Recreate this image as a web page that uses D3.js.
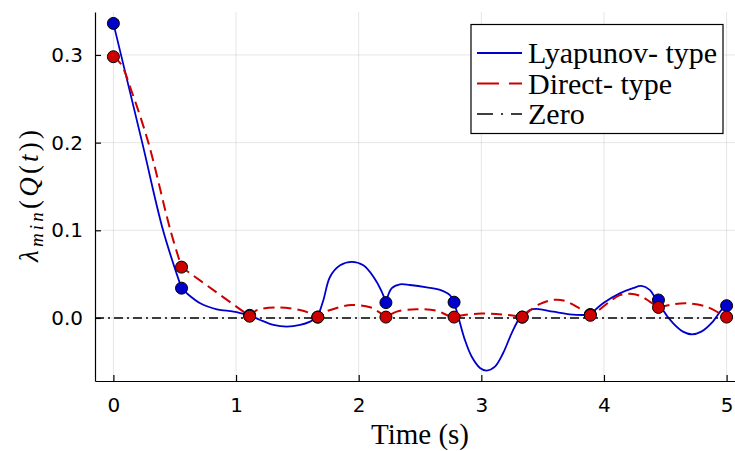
<!DOCTYPE html>
<html><head><meta charset="utf-8">
<script src="https://cdn.jsdelivr.net/npm/d3@7"></script>
<style>body{margin:0;background:#fff}</style>
</head><body>
<svg id="c" width="735" height="451"></svg>
<script>
// ---- data ----
const nodeTimes = [0, 0.5556, 1.1111, 1.6667, 2.2222, 2.7778, 3.3333, 3.8889, 4.4444, 5.0];
const lyapunovNodes = [0.336, 0.034, 0.003, 0.001, 0.0175, 0.018, 0.001, 0.004, 0.0205, 0.014];
const directNodes = [0.298, 0.058, 0.002, 0.001, 0.001, 0.001, 0.001, 0.003, 0.012, 0.001];

const lyapunovLineT = [0, 0.235, 0.405, 0.5556, 0.60, 0.708, 0.844, 0.98, 1.1111,
  1.197, 1.305, 1.414, 1.523, 1.604, 1.6667, 1.7125, 1.767, 1.849, 1.944, 2.038, 2.120, 2.188, 2.2222,
  2.270, 2.337, 2.419, 2.555, 2.663, 2.744, 2.7778, 2.812, 2.866, 2.921, 2.989, 3.043, 3.111, 3.178, 3.247, 3.314, 3.3333,
  3.396, 3.450, 3.586, 3.721, 3.83, 3.8889, 3.993, 4.129, 4.237, 4.305, 4.373, 4.414, 4.4444,
  4.481, 4.563, 4.644, 4.713, 4.794, 4.888, 4.957, 5.0];
const lyapunovLineV = [0.336, 0.2, 0.1, 0.034, 0.028, 0.0168, 0.0099, 0.0072, 0.003,
  -0.0023, -0.008, -0.0099, -0.008, -0.0042, 0.001, 0.0205, 0.047, 0.060, 0.064, 0.060, 0.047, 0.030, 0.0175,
  0.034, 0.0384, 0.0376, 0.035, 0.032, 0.026, 0.018, 0.0015, -0.025, -0.044, -0.057, -0.060, -0.0555, -0.040, -0.0175, 0, 0.001,
  0.009, 0.0103, 0.0072, 0.0042, 0.0034, 0.004, 0.0168, 0.028, 0.034, 0.0365, 0.032, 0.0243, 0.0205,
  0.009, -0.006, -0.0156, -0.0186, -0.0156, -0.0042, 0.009, 0.014];

const directLineT = [0, 0.06, 0.15, 0.285, 0.465, 0.5556, 0.833, 1.1111,
  1.17, 1.36, 1.52, 1.62, 1.6667, 1.713, 1.767, 1.94, 2.093, 2.16, 2.2222,
  2.31, 2.473, 2.636, 2.717, 2.7778, 2.86, 3.0, 3.12, 3.24, 3.3333,
  3.40, 3.48, 3.58, 3.67, 3.80, 3.8889, 3.95, 4.04, 4.13, 4.21, 4.30, 4.373, 4.4444,
  4.536, 4.67, 4.835, 4.943, 5.0];
const directLineV = [0.298, 0.290, 0.258, 0.2, 0.1, 0.058, 0.030, 0.002,
  0.009, 0.012, 0.009, 0.0046, 0.001, 0.006, 0.009, 0.0148, 0.0122, 0.0072, 0.001,
  0.0072, 0.0099, 0.0083, 0.0034, 0.001, 0.0035, 0.005, 0.0045, 0.003, 0.001,
  0.009, 0.016, 0.0205, 0.020, 0.011, 0.003, 0.008, 0.018, 0.026, 0.0275, 0.025, 0.0186, 0.012,
  0.0148, 0.0168, 0.0129, 0.0054, 0.001];

const zeroLevel = [0];
const xTicks = [0, 1, 2, 3, 4, 5];
const xTickLabels = ["0", "1", "2", "3", "4", "5"];
const yTicks = [0, 0.1, 0.2, 0.3];
const yTickLabels = ["0.0", "0.1", "0.2", "0.3"];
const legendLabels = ["Lyapunov- type", "Direct- type", "Zero"];

// ---- styles ----
const BLUE = "#0000cd", RED = "#cd0000";
const svg = d3.select("#c");
const L = 95, R = 745, T = 12, B = 381;
const x = d3.scaleLinear().domain([-0.15, 5.15]).range([L, R]);
const y = d3.scaleLinear().domain([-0.0719, 0.349]).range([B, T]);

// grid
const g = svg.append("g");
g.selectAll(".gx").data(xTicks).join("line")
  .attr("x1", d => x(d)).attr("x2", d => x(d)).attr("y1", T).attr("y2", B)
  .attr("stroke", "#000").attr("stroke-opacity", 0.1).attr("stroke-width", 1);
g.selectAll(".gy").data(yTicks).join("line")
  .attr("y1", d => y(d)).attr("y2", d => y(d)).attr("x1", L).attr("x2", R)
  .attr("stroke", "#000").attr("stroke-opacity", 0.1).attr("stroke-width", 1);

// axes (inward ticks)
const xAxis = d3.axisBottom(x).tickValues(xTicks).tickFormat((d, i) => xTickLabels[i]).tickSizeInner(-6).tickSizeOuter(0).tickPadding(12);
const yAxis = d3.axisLeft(y).tickValues(yTicks).tickFormat((d, i) => yTickLabels[i]).tickSizeInner(-6).tickSizeOuter(0).tickPadding(12);
const ax = svg.append("g").attr("transform", `translate(0,${B})`).call(xAxis);
const ay = svg.append("g").attr("transform", `translate(${L},0)`).call(yAxis);
[ax, ay].forEach(a => {
  a.select(".domain").attr("stroke", "#000").attr("stroke-width", 1.2);
  a.selectAll(".tick line").attr("stroke", "#000").attr("stroke-width", 1.2);
  a.selectAll(".tick text").attr("font-family", "DejaVu Sans").attr("font-size", 20).attr("fill", "#000");
});
ax.selectAll(".tick text").attr("dy", "0.95em");

// lines
function buildPath(ts, vs) {
  const pts = ts.map((t, i) => [t, vs[i]]);
  const line = d3.line().x(d => x(d[0])).y(d => y(d[1])).curve(d3.curveCatmullRom.alpha(0.5));
  let out = "";
  for (let i = 0; i < nodeTimes.length - 1; i++) {
    const seg = pts.filter(p => p[0] >= nodeTimes[i] - 1e-6 && p[0] <= nodeTimes[i + 1] + 1e-6);
    const p = line(seg);
    out += (i === 0) ? p : p.replace(/^M[^A-Za-z]*/, "");
  }
  return out;
}
svg.append("path").attr("d", buildPath(lyapunovLineT, lyapunovLineV))
  .attr("fill", "none").attr("stroke", BLUE).attr("stroke-width", 1.8);
svg.append("path").attr("d", buildPath(directLineT, directLineV))
  .attr("fill", "none").attr("stroke", RED).attr("stroke-width", 2).attr("stroke-dasharray", "11,6");
svg.selectAll(".zero").data(zeroLevel).join("line")
  .attr("x1", x.range()[0]).attr("x2", x.range()[1]).attr("y1", d => y(d)).attr("y2", d => y(d))
  .attr("stroke", "#000").attr("stroke-width", 1.4).attr("stroke-dasharray", "9,4,2,4");

// markers
svg.selectAll(".mb").data(nodeTimes).join("circle")
  .attr("cx", d => x(d)).attr("cy", (d, i) => y(lyapunovNodes[i])).attr("r", 6)
  .attr("fill", BLUE).attr("stroke", "#000").attr("stroke-width", 1);
svg.selectAll(".mr").data(nodeTimes).join("circle")
  .attr("cx", d => x(d)).attr("cy", (d, i) => y(directNodes[i])).attr("r", 6)
  .attr("fill", RED).attr("stroke", "#000").attr("stroke-width", 1);

// legend
const lg = svg.append("g");
lg.append("rect").attr("x", 471).attr("y", 24.5).attr("width", 252).attr("height", 109)
  .attr("fill", "#fff").attr("stroke", "#000").attr("stroke-width", 1.2);
const lstyles = [
  { c: BLUE, w: 1.8, dash: null },
  { c: RED, w: 2, dash: "22,10" },
  { c: "#000", w: 1.4, dash: "16,8,2,8" }
];
legendLabels.forEach((lab, i) => {
  const yy = 53 + i * 30.5;
  const ln = lg.append("line").attr("x1", 477).attr("x2", 522).attr("y1", yy).attr("y2", yy)
    .attr("stroke", lstyles[i].c).attr("stroke-width", lstyles[i].w);
  if (lstyles[i].dash) ln.attr("stroke-dasharray", lstyles[i].dash);
  lg.append("text").attr("x", 528).attr("y", yy + 10).text(lab)
    .attr("font-family", "Liberation Serif").attr("font-size", 30).attr("fill", "#000");
});

// axis labels
svg.append("text").attr("x", (L + R) / 2).attr("y", 444).attr("text-anchor", "middle")
  .attr("font-family", "Liberation Serif").attr("font-size", 29).text("Time (s)");
const yl = svg.append("text").attr("transform", "translate(38,196) rotate(-90)")
  .attr("text-anchor", "middle").attr("font-family", "Liberation Serif").attr("font-size", 27)
  .attr("textLength", 132).attr("lengthAdjust", "spacing");
yl.append("tspan").attr("font-style", "italic").text("λ");
yl.append("tspan").attr("font-style", "italic").attr("font-size", 19).attr("dy", 5).text("min");
yl.append("tspan").attr("dy", -5).text("(");
yl.append("tspan").attr("font-style", "italic").text("Q");
yl.append("tspan").text("(");
yl.append("tspan").attr("font-style", "italic").text("t");
yl.append("tspan").text("))");
</script>
</body></html>
